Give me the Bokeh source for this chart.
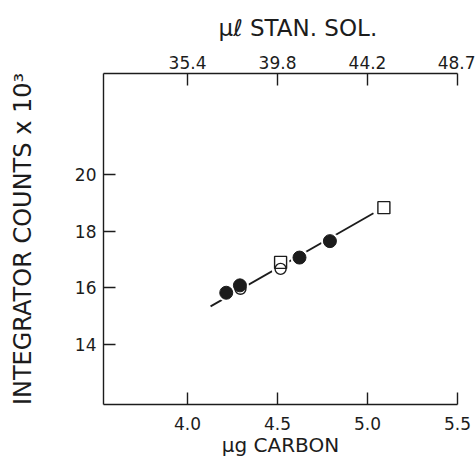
from bokeh.plotting import figure
from bokeh.models import LinearAxis, FixedTicker
from bokeh.embed import file_html
from bokeh.resources import INLINE

# ---- data ----
carbon_ticks = [4.0, 4.5, 5.0, 5.5]
carbon_labels = ["4.0", "4.5", "5.0", "5.5"]
stan_sol_labels = ["35.4", "39.8", "44.2", "48.7"]
count_ticks = [14, 16, 18, 20]

filled_x = [4.215, 4.291, 4.622, 4.791]
filled_y = [15.83, 16.09, 17.07, 17.65]
open_circle_x = [4.294, 4.517]
open_circle_y = [15.97, 16.67]
square_x = [4.517, 5.091]
square_y = [16.90, 18.83]
fit_x = [4.128, 5.033]
fit_y = [15.35, 18.63]

FONT = "DejaVu Sans"
INK = "#1c1c1c"

p = figure(width=475, height=462, x_range=(3.533, 5.5), y_range=(11.89, 23.56),
           output_backend="svg", toolbar_location=None,
           x_axis_location="below", y_axis_location="left",
           title="μℓ STAN. SOL.", title_location="above")
p.min_border_left = 103
p.min_border_right = 18
p.min_border_top = 73
p.min_border_bottom = 58
p.outline_line_color = None
p.xgrid.visible = False
p.ygrid.visible = False
p.background_fill_color = "white"
p.border_fill_color = "white"

bottom = p.below[0]
left = p.left[0]
top = LinearAxis()
p.add_layout(top, "above")

p.title.text_font = FONT
p.title.text_font_style = "normal"
p.title.text_font_size = "23px"
p.title.text_color = INK
p.title.align = "left"
p.title.offset = 115
p.title.standoff = 24


def style(ax, ticks, labels, label, tick_size, label_size, tick_standoff, label_standoff):
    ax.ticker = FixedTicker(ticks=ticks)
    ax.major_label_overrides = {t: l for t, l in zip(ticks, labels)}
    ax.axis_label = label
    ax.axis_line_color = INK
    ax.axis_line_width = 1.4
    ax.major_tick_line_color = INK
    ax.major_tick_line_width = 1.4
    ax.major_tick_in = 12
    ax.major_tick_out = 0
    ax.minor_tick_line_color = None
    ax.major_label_text_font = FONT
    ax.major_label_text_font_size = f"{tick_size}px"
    ax.major_label_text_color = INK
    ax.major_label_standoff = tick_standoff
    ax.axis_label_text_font = FONT
    ax.axis_label_text_font_style = "normal"
    ax.axis_label_text_font_size = f"{label_size}px"
    ax.axis_label_text_color = INK
    ax.axis_label_standoff = label_standoff


style(bottom, carbon_ticks, carbon_labels, "μg CARBON", 17, 20, 12, 0)
style(top, carbon_ticks, stan_sol_labels, None, 17, 20, 5, 0)
style(left, count_ticks, [str(t) for t in count_ticks], "INTEGRATOR COUNTS x 10³", 17, 24, 7, 35)

# fitted line
p.line(fit_x, fit_y, line_color=INK, line_width=1.8)

# white halos where the drafted line is broken around the symbols
all_x = filled_x + open_circle_x + square_x
all_y = filled_y + open_circle_y + square_y
p.scatter(all_x, all_y, marker="circle", size=18, fill_color="white", line_color=None)

p.scatter(open_circle_x, open_circle_y, marker="circle", size=11,
          fill_color="white", line_color=INK, line_width=1.4)
p.scatter(square_x, square_y, marker="square", size=12,
          fill_alpha=0, line_color=INK, line_width=1.4)
p.scatter(filled_x, filled_y, marker="circle", size=13,
          fill_color=INK, line_color=INK)

open("out.html", "w").write(file_html(p, INLINE))
